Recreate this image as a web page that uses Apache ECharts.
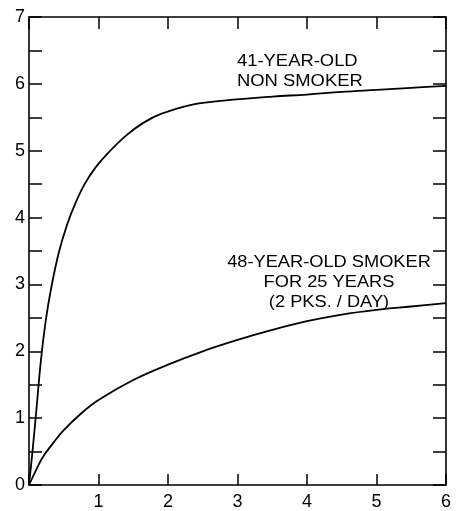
<!DOCTYPE html>
<html>
<head>
<meta charset="utf-8">
<script src="https://cdn.jsdelivr.net/npm/echarts@6/dist/echarts.min.js"></script>
<style>
  html, body { margin: 0; padding: 0; background: #fff; }
  #chart { width: 463px; height: 511px; }
</style>
</head>
<body>
<div id="chart"></div>
<script>
// curve
const nonSmokerX = [0, 0.05, 0.1, 0.17, 0.24, 0.32, 0.43, 0.55, 0.67, 0.8, 0.95, 1.15, 1.4, 1.65, 1.9, 2.35, 2.8, 3.5, 4, 4.5, 5, 5.5, 6];
const nonSmokerY = [0, 0.5, 1.05, 1.85, 2.45, 2.95, 3.48, 3.9, 4.22, 4.5, 4.74, 4.98, 5.23, 5.42, 5.55, 5.69, 5.75, 5.81, 5.84, 5.88, 5.91, 5.94, 5.97];
const smokerX = [0, 0.1, 0.2, 0.35, 0.5, 0.75, 1, 1.5, 2, 2.5, 3, 3.5, 4, 4.5, 5, 5.5, 6];
const smokerY = [0, 0.22, 0.42, 0.63, 0.82, 1.07, 1.27, 1.57, 1.8, 2.0, 2.17, 2.32, 2.45, 2.55, 2.62, 2.67, 2.72];
const nonSmokerLabel = ["41-YEAR-OLD", "NON SMOKER"];
const smokerLabel = ["48-YEAR-OLD SMOKER", "FOR 25 YEARS", "(2 PKS. / DAY)"];

const font = "Liberation Sans";
const pair = (xs, ys) => xs.map((x, i) => [x, ys[i]]);

let chart = echarts.init(document.getElementById("chart"));

const lineStyle = { color: "#000", width: 1.8 };
const axisBase = {
  type: "value",
  axisLine: { show: true, onZero: false, lineStyle: { color: "#000", width: 1.6 } },
  splitLine: { show: false },
};
const tickStyle = { color: "#000", width: 1.5 };

chart.setOption({
  animation: false,
  backgroundColor: "#fff",
  grid: { left: 29, right: 17, top: 17, bottom: 22 },
  xAxis: [
    {
      ...axisBase,
      position: "bottom",
      min: 0, max: 6, interval: 1,
      axisTick: { inside: true, length: 11, lineStyle: tickStyle },
      axisLabel: {
        color: "#000", fontFamily: font, fontSize: 18, margin: 8,
        formatter: (v) => (v === 0 ? "" : String(v)),
      },
    },
    {
      ...axisBase,
      position: "top",
      min: 0, max: 6, interval: 1,
      axisTick: { inside: true, length: 12, lineStyle: tickStyle },
      axisLabel: { show: false },
    },
  ],
  yAxis: [
    {
      ...axisBase,
      position: "left",
      min: 0, max: 7, interval: 0.5,
      axisTick: { inside: true, length: 13, lineStyle: tickStyle },
      axisLabel: {
        color: "#000", fontFamily: font, fontSize: 18, margin: 4,
        formatter: (v) => (Number.isInteger(v) ? String(v) : ""),
      },
    },
    {
      ...axisBase,
      position: "right",
      min: 0, max: 7, interval: 0.5,
      axisTick: { inside: true, length: 13, lineStyle: tickStyle },
      axisLabel: { show: false },
    },
  ],
  series: [
    {
      type: "line",
      data: pair(nonSmokerX, nonSmokerY),
      smooth: 0.4,
      showSymbol: false,
      lineStyle: lineStyle,
    },
    {
      type: "line",
      data: pair(smokerX, smokerY),
      smooth: 0.4,
      showSymbol: false,
      lineStyle: lineStyle,
    },
  ],
  graphic: [
    {
      type: "text", x: 237, y: 52, scaleX: 1.15,
      style: {
        text: nonSmokerLabel.join("\n"), font: "16px " + font, fill: "#000",
        lineHeight: 20, align: "left", verticalAlign: "top",
      },
    },
    {
      type: "text", x: 329, y: 253, scaleX: 1.14,
      style: {
        text: smokerLabel.join("\n"), font: "16px " + font, fill: "#000",
        lineHeight: 20, align: "center", verticalAlign: "top",
      },
    },
  ],
});
</script>
</body>
</html>
